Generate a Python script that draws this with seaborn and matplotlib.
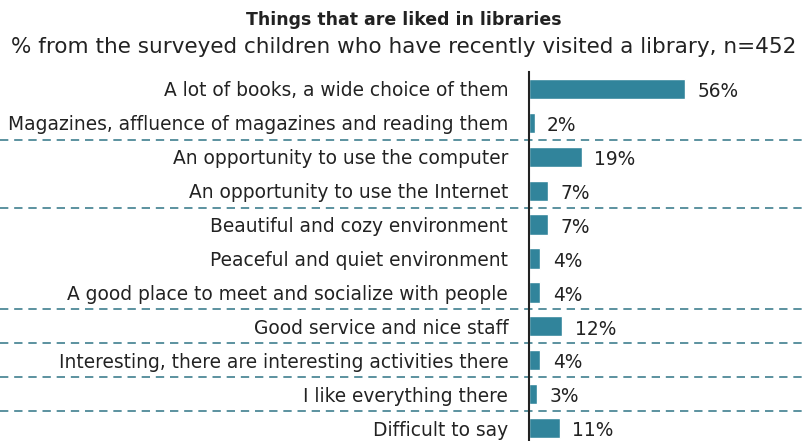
import pandas as pd
import seaborn as sns
import matplotlib.pyplot as plt

# Dados
categorias = [
    "A lot of books, a wide choice of them",
    "Magazines, affluence of magazines and reading them",
    "An opportunity to use the computer",
    "An opportunity to use the Internet",
    "Beautiful and cozy environment",
    "Peaceful and quiet environment",
    "A good place to meet and socialize with people",
    "Good service and nice staff",
    "Interesting, there are interesting activities there",
    "I like everything there",
    "Difficult to say",
]
valores = [56, 2, 19, 7, 7, 4, 4, 12, 4, 3, 11]
# linhas tracejadas depois destes itens
separadores = [1, 3, 6, 7, 8, 9]

df = pd.DataFrame({"item": categorias, "pct": valores})

sns.set_style("white")
plt.rcParams["font.family"] = ["DejaVu Sans"]

fig = plt.figure(figsize=(8.07, 4.41), dpi=100)
ax = fig.add_axes([529 / 807, -4 / 441, 1 - 529 / 807, (441 - 72 + 4) / 441])

cor = "#31849b"
sns.barplot(data=df, x="pct", y="item", orient="h", color=cor, width=0.6,
            saturation=1, ax=ax)

ax.set_xlim(0, 100)
ax.set_ylim(len(categorias) - 0.5, -0.5)
ax.set_xlabel("")
ax.set_ylabel("")
ax.set_xticks([])
ax.tick_params(axis="y", length=0, pad=15, labelsize=13.4, labelcolor="#222222")

for s in ["top", "right", "bottom"]:
    ax.spines[s].set_visible(False)
ax.spines["left"].set_color("#222222")
ax.spines["left"].set_linewidth(1.5)

for i, v in enumerate(valores):
    ax.text(v + 4.5, i + 0.08, f"{v}%", va="center", ha="left",
            fontsize=13.4, color="#222222")

for i in separadores:
    ax.axhline(i + 0.5, xmin=-529 / 278, xmax=1, clip_on=False,
               color="#3f7f8f", lw=1.2, ls=(0, (5, 3.5)))

fig.text(0.5, 0.955, "Things that are liked in libraries", ha="center",
         va="center", fontsize=12.5, fontweight="bold", color="#222222")
fig.text(0.5, 0.893, "% from the surveyed children who have recently visited a library, n=452",
         ha="center", va="center", fontsize=15.5, color="#222222")

fig.savefig("out.png", dpi=100)
